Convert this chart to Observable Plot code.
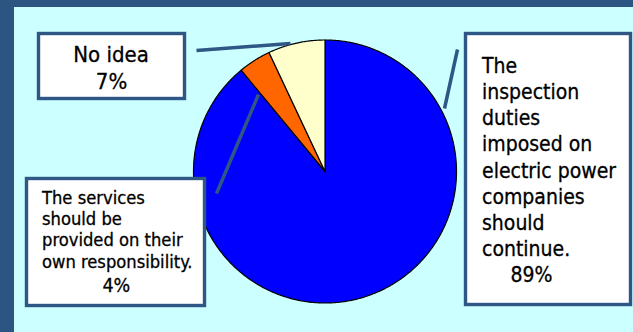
<!DOCTYPE html>
<html>
<head>
<meta charset="utf-8">
<script src="https://cdn.jsdelivr.net/npm/d3@7"></script>
<script src="https://cdn.jsdelivr.net/npm/@observablehq/plot@0.6"></script>
<style>
  html, body { margin: 0; padding: 0; }
  #frame { width: 633px; height: 332px; background: #2D5581; position: relative; overflow: hidden; }
  #chart { position: absolute; left: 14px; top: 7px; width: 619px; height: 325px; background: #CCFFFF; }
  #chart svg { display: block; }
</style>
</head>
<body>
<div id="frame"><div id="chart"></div></div>
<script>
// ---- data ----
const labelLines = [
  ["The", "inspection", "duties", "imposed on", "electric power", "companies", "should", "continue."],
  ["The services", "should be", "provided on their", "own responsibility."],
  ["No idea"]
];
const categories = labelLines.map(l => l.join(" "));
const values = [89, 4, 7];
const sliceColors = ["#0000FF", "#FF6600", "#FFFFCC"];

// ---- layout (pixels) ----
const W = 619, H = 325, OX = 14, OY = 7;
const CX = 310.5, CY = 164, R = 131.5;
const px = p => (p - OX - CX) / R;           // page x -> data x
const py = p => (CY - (p - OY)) / R;         // page y -> data y
const INK = "#2E5785";
const FONT = "'DejaVu Sans Condensed', 'DejaVu Sans', sans-serif";

// pie slice polygons from the values
const arcs = d3.pie().sort(null)(values);
const slicePts = [];
arcs.forEach((a, i) => {
  const cat = categories[i];
  slicePts.push({cat, x: 0, y: 0});
  const n = Math.max(2, Math.ceil((a.endAngle - a.startAngle) / (Math.PI / 360)));
  for (let k = 0; k <= n; k++) {
    const t = a.startAngle + (a.endAngle - a.startAngle) * k / n;
    slicePts.push({cat, x: Math.sin(t), y: Math.cos(t)});
  }
  slicePts.push({cat, x: 0, y: 0});
});

// label boxes (page px, stroke centre)
const boxes = [
  {cat: categories[0], x1: 465.5, y1: 33.5, x2: 630.5, y2: 304.5},
  {cat: categories[1], x1: 26.5, y1: 178.5, x2: 204.5, y2: 305.5},
  {cat: categories[2], x1: 38.5, y1: 33.5, x2: 184.5, y2: 98.5}
].map(b => ({cat: b.cat, x1: px(b.x1), x2: px(b.x2), y1: py(b.y1), y2: py(b.y2)}));

// leader lines (page px)
const leaders = [
  {x1: 444, y1: 108, x2: 457, y2: 49},
  {x1: 258, y1: 94, x2: 216, y2: 193},
  {x1: 290, y1: 43, x2: 196, y2: 50}
].map(l => ({x1: px(l.x1), y1: py(l.y1), x2: px(l.x2), y2: py(l.y2)}));

// text placement per label
const textSpecs = [
  {x: 481.5, base: 72.3, lh: 26.2, fs: 21, anchor: "start", px: 510, pbase: 281.7, pfs: 21, panchor: "start"},
  {x: 41.5, base: 203.3, lh: 21.3, fs: 18.2, anchor: "start", px: 115.8, pbase: 291.7, pfs: 19.5, panchor: "middle"},
  {x: 110.5, base: 61, lh: 0, fs: 22, anchor: "middle", px: 111, pbase: 88.3, pfs: 22, panchor: "middle"}
];
const textRows = [];
labelLines.forEach((lines, i) => {
  const s = textSpecs[i];
  lines.forEach((t, k) => textRows.push({text: t, x: px(s.x), y: py(s.base + k * s.lh), fs: s.fs, anchor: s.anchor}));
  textRows.push({text: values[i] + "%", x: px(s.px), y: py(s.pbase), fs: s.pfs, anchor: s.panchor});
});

const textMarks = d3.groups(textRows, d => d.fs + "|" + d.anchor).map(([key, rows]) =>
  Plot.text(rows, {x: "x", y: "y", text: "text", fontSize: rows[0].fs, textAnchor: rows[0].anchor,
    lineAnchor: "bottom", fill: "black", stroke: "black", strokeWidth: 0.3, fontFamily: FONT})
);

const chart = Plot.plot({
  width: W, height: H, margin: 0,
  style: {background: "transparent", fontFamily: FONT, overflow: "visible"},
  x: {domain: [-1, 1], range: [CX - R, CX + R], axis: null},
  y: {domain: [-1, 1], range: [CY + R, CY - R], axis: null},
  color: {domain: categories, range: sliceColors},
  marks: [
    Plot.line(slicePts, {x: "x", y: "y", z: "cat", fill: "cat", stroke: "black", strokeWidth: 1.2, strokeLinejoin: "round"}),
    Plot.link(leaders, {x1: "x1", y1: "y1", x2: "x2", y2: "y2", stroke: INK, strokeWidth: 3.5}),
    Plot.rect(boxes, {x1: "x1", x2: "x2", y1: "y1", y2: "y2", fill: "white", stroke: INK, strokeWidth: 3.4}),
    ...textMarks
  ]
});
document.getElementById("chart").appendChild(chart);
</script>
</body>
</html>
